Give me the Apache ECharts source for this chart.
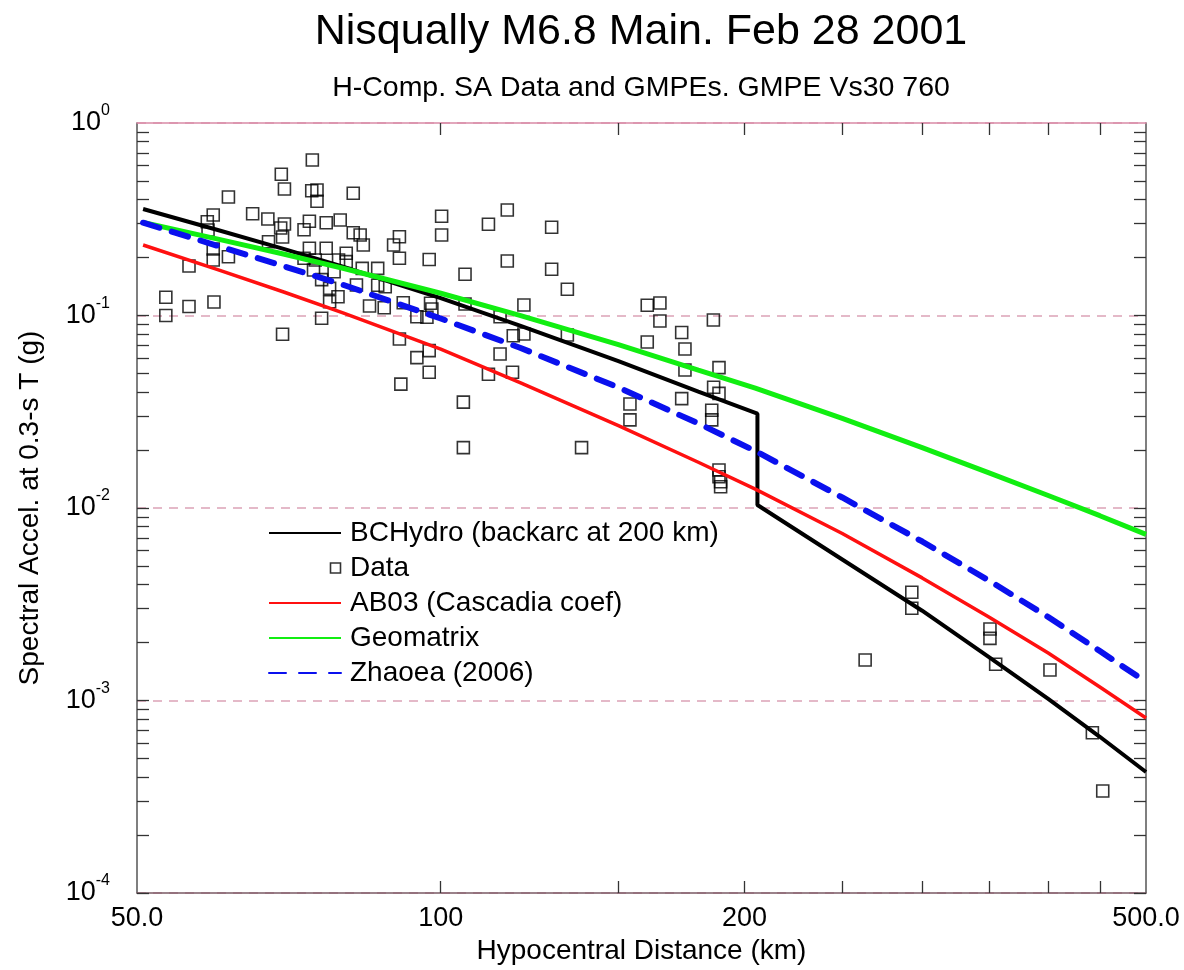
<!DOCTYPE html>
<html>
<head>
<meta charset="utf-8">
<script src="https://cdn.jsdelivr.net/npm/echarts@6/dist/echarts.min.js"></script>
<style>
  html, body { margin: 0; padding: 0; background: #ffffff; }
  #chart { width: 1184px; height: 970px; }
</style>
</head>
<body>
<div id="chart"></div>
<script>
// Hypocentral distances (km) at which the GMPE curves are sampled
const gmpeDistances = [50.7, 60, 70, 80, 100, 120, 150, 180, 205, 250, 300, 350, 400, 450, 500];
// BCHydro switches to the backarc branch near 200 km, giving a vertical step
const bcHydroDistances = [50.7, 60, 70, 80, 100, 120, 150, 180, 206, 206, 250, 300, 350, 400, 450, 500];

// Spectral acceleration (g) at T = 0.3 s
const bcHydro   = [0.3574, 0.2790, 0.2213, 0.1791, 0.1230, 0.0884, 0.0579, 0.0402, 0.0309, 0.01036, 0.00540, 0.002927, 0.00167, 0.00102, 0.000648, 0.000425];
const ab03      = [0.2324, 0.1736, 0.1321, 0.1031, 0.0668, 0.0447, 0.0268, 0.01728, 0.01254, 0.00737, 0.004334, 0.00270, 0.001765, 0.001175, 0.000811];
const geomatrix = [0.304, 0.250, 0.208, 0.176, 0.1305, 0.0999, 0.0705, 0.0520, 0.0419, 0.0292, 0.0206, 0.01517, 0.01161, 0.00912, 0.00730];
const zhaoea    = [0.3034, 0.2307, 0.1799, 0.1445, 0.0965, 0.0678, 0.0423, 0.02748, 0.01977, 0.01134, 0.0067, 0.004176, 0.002715, 0.001807, 0.001248];

// Recorded stations: hypocentral distance (km) and spectral acceleration (g)
const stationDistance = [
  53.4, 53.4, 56.3, 56.3, 58.7, 58.8, 59.5, 59.5, 59.5, 59.6,
  61.6, 61.6, 65.1, 67.4, 67.5, 69.5, 70.0, 70.0, 69.4, 69.7,
  69.7, 73.2, 74.1, 74.6, 74.5, 75.4, 75.4, 77.0, 79.5, 81.9,
  81.9, 83.2, 83.8, 74.1, 77.0, 73.2, 75.1, 80.6, 80.6, 79.2,
  74.8, 78.4, 83.6, 86.6, 76.2, 77.6, 79.1, 77.6, 82.5, 86.6,
  88.1, 85.0, 87.9, 91.8, 76.2, 91.0, 91.0, 89.8, 91.0, 97.4,
  97.7, 98.0, 94.7, 97.4, 97.4, 91.3, 105.3, 105.3, 100.2, 100.2,
  116.4, 111.5, 128.8, 116.4, 128.8, 105.7, 133.5, 105.7, 120.9, 94.7,
  96.9, 114.5, 118.0, 120.9, 133.5, 114.5, 111.5, 117.8, 137.9, 160.2,
  164.9, 164.9, 186.3, 160.2, 173.3, 174.6, 174.6, 188.7, 186.4, 188.7,
  173.3, 154.0, 154.0, 185.6, 185.6, 188.7, 188.7, 189.4, 189.4, 263.4,
  293.0, 293.0, 350.2, 350.2, 354.8, 401.6, 442.4, 453.0
];
const stationSA = [
  0.1243, 0.100, 0.1807, 0.1114, 0.3071, 0.2780, 0.3327, 0.2215, 0.1943, 0.1175,
  0.4126, 0.2020, 0.3379, 0.3172, 0.2417, 0.5415, 0.4541, 0.2988, 0.2848, 0.2557,
  0.0799, 0.2790, 0.3086, 0.6423, 0.4450, 0.4488, 0.3920, 0.3034, 0.3133, 0.4313,
  0.2692, 0.2619, 0.2324, 0.2234, 0.2234, 0.1982, 0.1943, 0.2104, 0.1904, 0.1943,
  0.1723, 0.1688, 0.1758, 0.1758, 0.1535, 0.1384, 0.1252, 0.1179, 0.1440, 0.1435,
  0.1411, 0.1120, 0.1098, 0.1165, 0.0967, 0.0755, 0.2566, 0.2324, 0.1982, 0.1954,
  0.1157, 0.1081, 0.0604, 0.0657, 0.0507, 0.0440, 0.0355, 0.0206, 0.3276, 0.2619,
  0.3532, 0.2977, 0.2872, 0.1919, 0.1738, 0.1637, 0.1368, 0.1147, 0.1134, 0.0986,
  0.0979, 0.0986, 0.0785, 0.0801, 0.0792, 0.0631, 0.0495, 0.0507, 0.0206, 0.1130,
  0.1161, 0.0936, 0.0947, 0.0728, 0.0816, 0.0670, 0.0521, 0.0536, 0.0424, 0.0394,
  0.0370, 0.0347, 0.0287, 0.0322, 0.0287, 0.01575, 0.01454, 0.01370, 0.01290, 0.001623,
  0.003649, 0.003013, 0.002351, 0.002103, 0.001542, 0.001440, 0.000680, 0.000339
];

// Axis ticks and labels
const xLabelValues = [50, 100, 200, 500];
const xLabelTexts = ['50.0', '100', '200', '500.0'];
const xTickValues = [100, 150, 200, 250, 300, 350, 400, 450];
const yDecades = [0.0001, 0.001, 0.01, 0.1, 1];
const yExponents = ['-4', '-3', '-2', '-1', '0'];
const yMantissas = [1, 2, 3, 4, 5, 6, 7, 8, 9];

const yTickValues = [];
yDecades.slice(0, 4).forEach(d => yMantissas.forEach(m => yTickValues.push(+(m * d).toPrecision(3))));

const FONT = 'Liberation Sans, Arial, Helvetica, sans-serif';

function pairs(xs, ys) {
  return xs.map((x, i) => [x, ys[i]]);
}

function yLabel(value) {
  let best = 0;
  yDecades.forEach((d, i) => {
    if (Math.abs(Math.log10(value) - Math.log10(d)) < Math.abs(Math.log10(value) - Math.log10(yDecades[best]))) best = i;
  });
  return '{b|10}{s|' + yExponents[best] + '}';
}

const chart = echarts.init(document.getElementById('chart'), null, { renderer: 'canvas' });

const tickStyle = { color: '#333333', width: 1.3 };
const hideMarker = { opacity: 0 };

const option = {
  animation: false,
  backgroundColor: '#ffffff',
  textStyle: { fontFamily: FONT },
  grid: { left: 137, right: 38, top: 123, bottom: 77, containLabel: false, outerBoundsMode: 'none' },
  graphic: [
    {
      type: 'text', x: 641, y: 32,
      style: { text: 'Nisqually M6.8 Main. Feb 28 2001', fill: '#000', font: '43px ' + FONT, textAlign: 'center', textVerticalAlign: 'middle' }
    },
    {
      type: 'text', x: 641, y: 88,
      style: { text: 'H-Comp. SA Data and GMPEs. GMPE Vs30 760', fill: '#000', font: '28.5px ' + FONT, textAlign: 'center', textVerticalAlign: 'middle' }
    }
  ],
  legend: {
    orient: 'vertical',
    left: 263,
    top: 514,
    itemWidth: 72,
    itemHeight: 10,
    itemGap: 7,
    selectedMode: false,
    textStyle: { fontSize: 28, color: '#000', fontFamily: FONT, padding: [0, 0, 0, 4] },
    data: [
      { name: 'BCHydro (backarc at 200 km)', itemStyle: hideMarker },
      { name: 'Data', icon: 'path://M0 5L0 5ZM61 0L71 0L71 10L61 10Z', itemStyle: { color: 'rgba(0,0,0,0)', borderColor: '#000', borderWidth: 1.6 } },
      { name: 'AB03 (Cascadia coef)', itemStyle: hideMarker },
      { name: 'Geomatrix', itemStyle: hideMarker },
      { name: 'Zhaoea (2006)', itemStyle: hideMarker }
    ]
  },
  xAxis: [
    {
      type: 'log', logBase: 10, min: 50, max: 500, position: 'bottom',
      name: 'Hypocentral Distance (km)', nameLocation: 'middle', nameGap: 43,
      nameTextStyle: { fontSize: 28, color: '#000', fontFamily: FONT },
      axisLine: { show: true, lineStyle: { color: '#7a5a64', width: 1.5 } },
      axisTick: { show: true, inside: true, length: 12, customValues: xTickValues, lineStyle: tickStyle },
      axisLabel: {
        customValues: xLabelValues, showMinLabel: true, showMaxLabel: true,
        fontSize: 27, color: '#000', margin: 12, fontFamily: FONT,
        formatter: v => {
          const i = xLabelValues.findIndex(x => Math.abs(x - v) < 1e-6 * x);
          return i >= 0 ? xLabelTexts[i] : '';
        }
      },
      splitLine: { show: false }
    },
    {
      type: 'log', logBase: 10, min: 50, max: 500, position: 'top',
      axisLine: { show: true, lineStyle: { color: '#d98aa6', width: 1.5 } },
      axisTick: { show: true, inside: true, length: 12, customValues: xTickValues, lineStyle: tickStyle },
      axisLabel: { show: false },
      splitLine: { show: false }
    }
  ],
  yAxis: [
    {
      type: 'log', logBase: 10, min: 0.0001, max: 1, position: 'left',
      name: 'Spectral Accel. at 0.3-s T (g)', nameLocation: 'middle', nameGap: 93, nameRotate: 90,
      nameTextStyle: { fontSize: 28, color: '#000', fontFamily: FONT },
      axisLine: { show: true, lineStyle: { color: '#555555', width: 1.5 } },
      axisTick: { show: true, inside: true, length: 12, customValues: yTickValues, lineStyle: tickStyle },
      axisLabel: {
        fontFamily: FONT, margin: 27,
        formatter: yLabel,
        rich: {
          b: { fontSize: 27, color: '#000', fontFamily: FONT, lineHeight: 40 },
          s: { fontSize: 16, color: '#000', fontFamily: FONT, verticalAlign: 'top' }
        }
      },
      splitLine: { show: false }
    },
    {
      type: 'log', logBase: 10, min: 0.0001, max: 1, position: 'right',
      axisLine: { show: true, lineStyle: { color: '#555555', width: 1.5 } },
      axisTick: { show: true, inside: true, length: 12, customValues: yTickValues, lineStyle: tickStyle },
      axisLabel: { show: false },
      splitLine: { show: false }
    },
    {
      // decade grid lines only
      type: 'log', logBase: 10, min: 0.0001, max: 1, position: 'left',
      axisLine: { show: false },
      axisTick: { show: false },
      axisLabel: { show: false },
      splitLine: { show: true, lineStyle: { color: '#dba2b6', width: 1.5, type: [9, 7] } }
    }
  ],
  series: [
    {
      name: 'BCHydro (backarc at 200 km)', type: 'line', xAxisIndex: 0, yAxisIndex: 0,
      data: pairs(bcHydroDistances, bcHydro), showSymbol: false, symbol: 'none', z: 3,
      lineStyle: { color: '#000000', width: 4 }, itemStyle: { color: '#000000' }
    },
    {
      name: 'Data', type: 'scatter', xAxisIndex: 0, yAxisIndex: 0,
      data: pairs(stationDistance, stationSA), symbol: 'rect', symbolSize: 12, z: 2,
      itemStyle: { color: 'rgba(0,0,0,0)', borderColor: '#000000', borderWidth: 1.6 }
    },
    {
      name: 'AB03 (Cascadia coef)', type: 'line', xAxisIndex: 0, yAxisIndex: 0,
      data: pairs(gmpeDistances, ab03), showSymbol: false, symbol: 'none', z: 3,
      lineStyle: { color: '#ff1010', width: 3.5 }, itemStyle: { color: '#ff1010' }
    },
    {
      name: 'Geomatrix', type: 'line', xAxisIndex: 0, yAxisIndex: 0,
      data: pairs(gmpeDistances, geomatrix), showSymbol: false, symbol: 'none', z: 3,
      lineStyle: { color: '#11ee11', width: 5 }, itemStyle: { color: '#11ee11' }
    },
    {
      name: 'Zhaoea (2006)', type: 'line', xAxisIndex: 0, yAxisIndex: 0,
      data: pairs(gmpeDistances, zhaoea), showSymbol: false, symbol: 'none', z: 4,
      lineStyle: { color: '#0a10ee', width: 6, type: [17, 13], cap: 'round' }, itemStyle: { color: '#0a10ee' }
    }
  ]
};

chart.setOption(option);
</script>
</body>
</html>
